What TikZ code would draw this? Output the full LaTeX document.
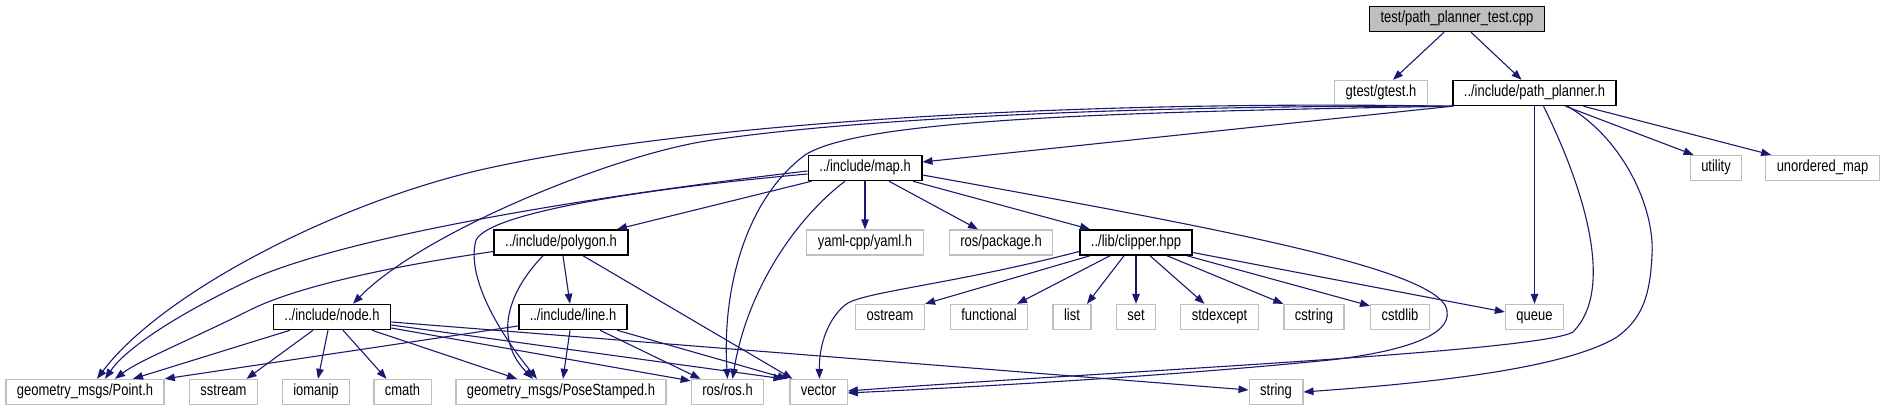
\documentclass[tikz,border=0pt]{standalone}
\usepackage{fontspec}
\setmainfont{Liberation Sans}[FakeStretch=0.8]
\usetikzlibrary{arrows.meta}
\definecolor{edgeblue}{RGB}{25, 25, 112}
\definecolor{boxgray}{RGB}{191, 191, 191}
\tikzset{
  file/.style={draw, line width=1.3pt, fill=white, minimum height=25pt,
    inner xsep=11pt, inner ysep=0pt, text height=11.5pt, text depth=3.5pt,
    font=\fontsize{16.2}{18}\selectfont},
  sysfile/.style={file, draw=boxgray},
  projfile/.style={file, draw=black, line width=1.5pt},
  rootfile/.style={projfile, fill=boxgray},
  incl/.style={draw=edgeblue, line width=1.1pt,
    -{Triangle[length=10pt, width=7.5pt]}}
}

\begin{document}
\begin{tikzpicture}[x=1pt, y=-1pt]
        \useasboundingbox (0,0) rectangle (1883,411);

        % rank 0 and 1
        \node[rootfile] (test) at (1457,19) {test/path\_planner\_test.cpp};
        \node[sysfile] (gtest) at (1381,93) {gtest/gtest.h};
        \node[projfile] (planner) at (1534.5,93) {../include/path\_planner.h};

        % rank 2
        \node[projfile] (map) at (865,168) {../include/map.h};
        \node[sysfile] (utility) at (1716,168) {utility};
        \node[sysfile] (umap) at (1822.5,168) {unordered\_map};

        % rank 3
        \node[projfile] (polygon) at (561,242.5) {../include/polygon.h};
        \node[sysfile] (yaml) at (865,242.5) {yaml-cpp/yaml.h};
        \node[sysfile] (package) at (1001,242.5) {ros/package.h};
        \node[projfile] (clipper) at (1136,242.5) {../lib/clipper.hpp};

        % rank 4
        \node[projfile] (nodeh) at (332,317) {../include/node.h};
        \node[projfile] (line) at (573,317) {../include/line.h};
        \node[sysfile] (ostream) at (890,317) {ostream};
        \node[sysfile] (functional) at (989,317) {functional};
        \node[sysfile] (list) at (1072,317) {list};
        \node[sysfile] (set) at (1136,317) {set};
        \node[sysfile] (stdexcept) at (1219.5,317) {stdexcept};
        \node[sysfile] (cstring) at (1314,317) {cstring};
        \node[sysfile] (cstdlib) at (1400,317) {cstdlib};
        \node[sysfile] (queue) at (1534.5,317) {queue};

        % rank 5
        \node[sysfile] (point) at (85,392) {geometry\_msgs/Point.h};
        \node[sysfile] (sstream) at (223.5,392) {sstream};
        \node[sysfile] (iomanip) at (316,392) {iomanip};
        \node[sysfile] (cmath) at (402.5,392) {cmath};
        \node[sysfile] (pose) at (561,392) {geometry\_msgs/PoseStamped.h};
        \node[sysfile] (ros) at (727.5,392) {ros/ros.h};
        \node[sysfile] (vector) at (818.5,392) {vector};
        \node[sysfile] (string) at (1276,392) {string};

        % test file
        \draw[incl] ([xshift=-13pt]test.south) -- ([xshift=12pt]gtest.north);
        \draw[incl] ([xshift=14pt]test.south) -- ([xshift=-13pt]planner.north);

        % path_planner.h
        \draw[incl] (planner.south west) -- ([yshift=6pt]map.east);
        \draw[incl] ([xshift=1pt]planner.south west)
          .. controls (1100,100) and (700,120) .. (480,170)
          .. controls (330,205) and (160,295) .. ([xshift=12pt]point.north);
        \draw[incl] ([xshift=1pt]planner.south west)
          .. controls (1150,105) and (850,118) .. (700,142)
          .. controls (600,160) and (420,235) .. ([xshift=21pt]nodeh.north);
        \draw[incl] ([xshift=1pt]planner.south west)
          .. controls (1100,112) and (860,120) .. (805,155)
          .. controls (745,200) and (722,290) .. (ros.north);
        \draw[incl] (planner) -- (queue);
        \draw[incl] ([xshift=9pt]planner.south)
          .. controls (1585,190) and (1615,290) .. (1573,332)
          .. controls (1540,352) and (1100,372) .. ([yshift=1pt]vector.east);
        \draw[incl] ([xshift=33pt]planner.south)
          .. controls (1625,140) and (1655,210) .. (1652,255)
          .. controls (1650,300) and (1640,320) .. (1617,337)
          .. controls (1560,372) and (1400,385) .. (string.east);
        \draw[incl] ([xshift=31pt]planner.south) -- ([xshift=4pt]utility.north west);
        \draw[incl] ([xshift=49pt]planner.south) -- ([xshift=6pt]umap.north west);

        % map.h
        \draw[incl] ([yshift=-3pt]map.west)
          .. controls (600,195) and (350,235) .. (250,280)
          .. controls (170,318) and (125,350) .. ([xshift=20pt]point.north);
        \draw[incl] ([yshift=-6pt]map.west)
          .. controls (650,188) and (490,212) .. (476,240)
          .. controls (465,280) and (505,340) .. ([xshift=-24pt]pose.north);
        \draw[incl] ([xshift=4pt]map.south west) -- ([xshift=56pt]polygon.north);
        \draw[incl] ([xshift=-20pt]map.south)
          .. controls (800,215) and (748,285) .. ([xshift=5pt]ros.north);
        \draw[incl] (map) -- (yaml);
        \draw[incl] ([xshift=24pt]map.south) -- ([xshift=-23pt]package.north);
        \draw[incl] ([xshift=48pt]map.south) -- ([xshift=-46pt]clipper.north);
        \draw[incl] ([yshift=-7pt]map.east)
          .. controls (1200,225) and (1420,265) .. (1445,305)
          .. controls (1460,335) and (1400,352) .. (1330,360)
          .. controls (1150,378) and (950,388) .. ([yshift=-1pt]vector.east);

        % polygon.h
        \draw[incl] ([yshift=-9pt]polygon.west)
          .. controls (400,265) and (300,285) .. (250,310)
          .. controls (190,340) and (140,360) .. ([xshift=30pt]point.north);
        \draw[incl] ([xshift=-18pt]polygon.south)
          .. controls (505,295) and (495,340) .. ([xshift=-28pt]pose.north);
        \draw[incl] ([xshift=2pt]polygon.south) -- ([xshift=-3pt]line.north);
        \draw[incl] ([xshift=22pt]polygon.south) -- ([xshift=-26pt]vector.north);

        % node.h
        \draw[incl] ([xshift=-42pt]nodeh.south) -- ([xshift=48pt]point.north);
        \draw[incl] ([xshift=-19pt]nodeh.south) -- ([xshift=23pt]sstream.north);
        \draw[incl] ([xshift=-4pt]nodeh.south) -- ([xshift=2pt]iomanip.north);
        \draw[incl] ([xshift=11pt]nodeh.south) -- ([xshift=-16pt]cmath.north);
        \draw[incl] ([xshift=40pt]nodeh.south) -- ([xshift=-44pt]pose.north);
        \draw[incl] ([yshift=-5pt]nodeh.east) -- ([yshift=2pt]string.west);
        \draw[incl] ([yshift=-8pt]nodeh.east) -- ([xshift=-35pt]vector.north);
        \draw[incl] ([yshift=-11pt]nodeh.east) -- ([yshift=-2pt]ros.north west);

        % line.h
        \draw[incl] ([yshift=-9pt]line.west) -- (point.north east);
        \draw[incl] ([xshift=-3pt]line.south) -- ([xshift=2pt]pose.north);
        \draw[incl] ([xshift=27pt]line.south) -- ([xshift=-27pt]ros.north);
        \draw[incl] ([xshift=44pt]line.south) -- ([xshift=-31pt]vector.north);

        % clipper.hpp
        \draw[incl] ([yshift=-9pt]clipper.west)
          .. controls (950,285) and (860,292) .. (845,305)
          .. controls (825,322) and (819,350) .. ([xshift=1pt]vector.north);
        \draw[incl] ([xshift=-46pt]clipper.south) -- (ostream.north east);
        \draw[incl] ([xshift=-26pt]clipper.south) -- ([xshift=28pt]functional.north);
        \draw[incl] ([xshift=-12pt]clipper.south) -- ([xshift=15pt]list.north);
        \draw[incl] (clipper) -- (set);
        \draw[incl] ([xshift=14pt]clipper.south) -- ([xshift=-15pt]stdexcept.north);
        \draw[incl] ([xshift=31pt]clipper.south) -- (cstring.north west);
        \draw[incl] ([xshift=51pt]clipper.south) -- ([yshift=-2pt]cstdlib.north west);
        \draw[incl] ([yshift=-10pt]clipper.east) -- ([yshift=5pt]queue.west);
      \end{tikzpicture}
\end{document}
